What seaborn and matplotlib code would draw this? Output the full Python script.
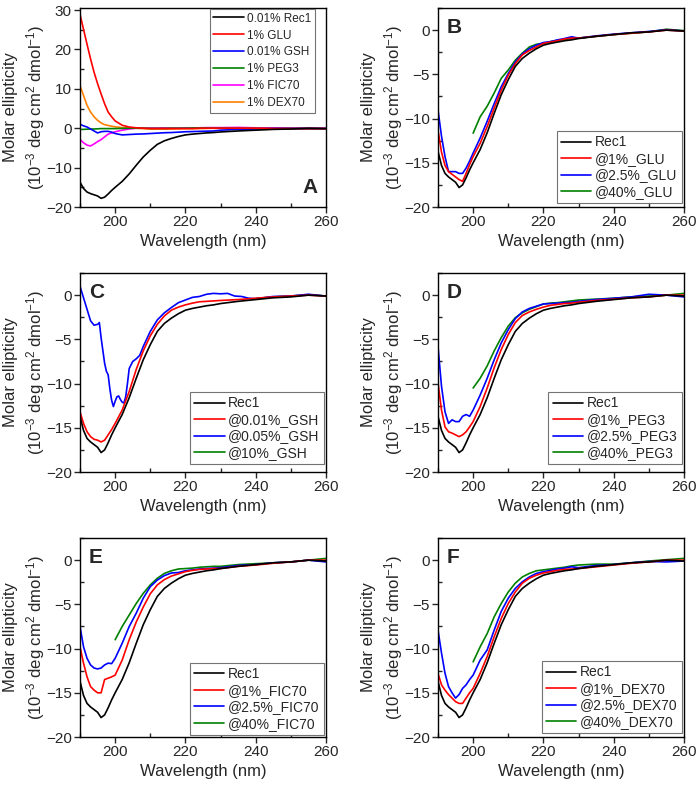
import numpy as np
import matplotlib
matplotlib.use("Agg")
import matplotlib.pyplot as plt
import seaborn as sns
from matplotlib.ticker import MultipleLocator

nan = np.nan

# wavelength grid (nm)
wl = [190, 191, 192, 193, 194, 195, 196, 197, 198, 199, 200,
      202, 204, 206, 208, 210, 212, 214, 216, 218, 220, 222, 224, 226, 228, 230,
      235, 240, 245, 250, 255, 260]

# Rec1 alone (same trace in every panel)
rec1 = [-13.7, -15.3, -16.2, -16.6, -16.9, -17.2, -17.8, -17.5, -16.7, -15.8, -15.0,
        -13.5, -11.6, -9.4, -7.3, -5.6, -4.1, -3.2, -2.6, -2.1, -1.7, -1.5, -1.35, -1.2, -1.1, -0.95,
        -0.7, -0.5, -0.3, -0.2, 0.0, -0.1]

# panel A: additives alone
glu_a = [28.9, 25.1, 21.3, 17.6, 14.2, 11.3, 8.7, 6.2, 4.1, 2.9, 1.85,
         0.75, 0.3, 0.1, 0.0, -0.1, -0.1, -0.1, -0.1, -0.1, -0.1, -0.1, 0.0, 0.0, 0.0, 0.0,
         0.0, 0.0, -0.1, -0.1, -0.1, -0.1]
gsh_a = [1.0, 0.6, 0.3, -0.2, -0.7, -1.2, -0.9, -0.8, -0.8, -1.0, -1.35,
         -1.7, -1.6, -1.5, -1.45, -1.35, -1.25, -1.15, -1.1, -1.0, -0.9, -0.85, -0.8, -0.75, -0.7, -0.5,
         -0.3, -0.2, -0.1, -0.1, -0.1, -0.1]
peg_a = [-0.3, -0.3, -0.25, -0.2, -0.2, -0.15, -0.1, -0.1, -0.1, -0.1, -0.1,
         -0.05, 0.0, 0.0, 0.0, -0.05, -0.05, -0.05, 0.0, 0.0, 0.0, 0.05, 0.05, 0.05, 0.0, 0.0,
         -0.05, -0.05, -0.1, -0.05, -0.1, -0.1]
fic_a = [-2.9, -3.7, -4.3, -4.5, -4.0, -3.4, -2.9, -2.2, -1.5, -1.2, -0.9,
         -0.5, -0.2, 0.0, 0.0, 0.05, 0.05, 0.1, 0.05, 0.05, 0.1, 0.1, 0.1, 0.15, 0.15, 0.15,
         0.2, 0.1, 0.1, 0.05, 0.0, 0.0]
dex_a = [10.8, 8.3, 5.8, 4.1, 2.9, 2.0, 1.35, 0.9, 0.7, 0.5, 0.35,
         0.15, 0.05, 0.0, -0.1, -0.2, -0.2, -0.2, -0.2, -0.15, -0.1, -0.1, -0.1, -0.05, 0.0, 0.0,
         0.0, 0.0, -0.1, -0.1, -0.2, -0.2]

# panel B: GLU
glu1 = [-11.3, -13.8, -15.3, -16.0, -16.3, -16.6, -16.9, -17.1, -16.2, -15.2, -14.3,
        -12.8, -10.9, -8.8, -6.8, -5.1, -3.8, -2.8, -2.3, -1.9, -1.5, -1.35, -1.2, -1.0, -0.9, -0.9,
        -0.7, -0.5, -0.35, -0.2, 0.0, -0.1]
glu25 = [-9.0, -12.0, -14.3, -16.0, -16.0, -16.0, -16.2, -16.2, -15.6, -14.8, -13.9,
         -12.2, -10.3, -8.3, -6.4, -4.9, -3.6, -2.7, -2.1, -1.7, -1.4, -1.3, -1.1, -0.95, -0.75, -0.9,
         -0.65, -0.45, -0.3, -0.15, 0.05, -0.1]
glu40 = [nan] * 10 + [-11.65, -9.8, -8.6, -7.1, -5.45, -4.5, -3.4, -2.6, -1.9, -1.6, -1.5,
                      -1.3, -1.15, -1.05, -0.95, -0.9, -0.7, -0.5, -0.35, -0.2, 0.1, -0.05]

# panel C: GSH
gsh001 = [-13.2, -14.5, -15.45, -16.0, -16.3, -16.4, -16.6, -16.4, -15.8, -15.2, -14.5,
          -13.0, -10.9, -8.4, -6.3, -4.6, -3.3, -2.35, -1.7, -1.35, -1.1, -0.9, -0.75, -0.7, -0.65, -0.6,
          -0.5, -0.35, -0.2, -0.1, 0.0, -0.1]
wl_gsh005 = [190, 191, 192, 193, 194, 195, 195.5, 196, 197, 197.5, 198, 198.5, 199, 199.5,
             200, 200.5, 201, 201.5, 202, 202.5, 203, 203.5, 204, 205, 206, 207, 208,
             210, 212, 214, 216, 218, 220, 222, 224, 226, 228, 230, 232, 234, 236, 238, 240,
             245, 250, 255, 260]
gsh005 = [1.0, -0.3, -1.6, -2.9, -3.4, -3.3, -3.1, -4.8, -7.7, -8.6, -9.0, -10.6, -11.9, -12.6,
          -12.0, -11.5, -11.4, -11.8, -12.1, -12.2, -11.5, -10.0, -8.3, -7.5, -7.2, -6.8, -5.8,
          -4.1, -2.8, -2.0, -1.4, -0.85, -0.55, -0.25, -0.15, 0.1, 0.2, 0.15, 0.2, -0.1, -0.15, -0.35, -0.4,
          -0.15, -0.1, 0.1, -0.1]
gsh10 = [nan] * 27 + [-0.4, -0.2, -0.1, 0.05, -0.1]

# panel D: PEG3
peg1 = [-9.9, -13.0, -14.9, -15.45, -15.6, -15.8, -16.0, -15.8, -15.45, -14.9, -14.3,
        -12.6, -10.5, -8.2, -6.15, -4.45, -3.1, -2.3, -1.9, -1.6, -1.35, -1.15, -1.05, -0.95, -0.9, -0.8,
        -0.6, -0.45, -0.3, -0.2, 0.0, 0.0]
peg25 = [-5.8, -10.3, -13.2, -14.5, -14.1, -14.3, -14.3, -13.7, -13.5, -13.7, -13.0,
         -11.3, -9.4, -7.3, -5.4, -3.9, -2.65, -1.9, -1.5, -1.25, -1.0, -0.95, -0.9, -0.85, -0.8, -0.7,
         -0.5, -0.35, -0.2, 0.1, 0.0, -0.2]
peg40 = [nan] * 10 + [-10.5, -9.4, -8.0, -6.3, -4.8, -3.5, -2.55, -2.0, -1.6, -1.3, -1.0,
                      -0.9, -0.85, -0.75, -0.65, -0.55, -0.45, -0.35, -0.2, -0.1, 0.0, 0.2]

# panel E: FIC70
fic1 = [-9.8, -11.65, -13.2, -14.3, -14.7, -15.0, -15.0, -13.5, -13.35, -13.2, -13.0,
        -11.3, -9.0, -7.0, -5.3, -3.8, -2.8, -2.2, -1.8, -1.55, -1.3, -1.15, -1.05, -1.0, -0.95, -0.95,
        -0.7, -0.55, -0.35, -0.2, 0.0, 0.0]
fic25 = [-7.5, -9.8, -11.1, -11.85, -12.2, -12.3, -12.2, -11.85, -11.65, -11.7, -11.1,
         -9.4, -7.5, -6.0, -4.3, -3.0, -2.25, -1.75, -1.45, -1.4, -1.2, -1.1, -1.0, -0.95, -0.9, -0.85,
         -0.6, -0.5, -0.3, -0.2, 0.0, -0.2]
fic40 = [nan] * 10 + [-9.0, -7.5, -6.2, -4.9, -3.75, -2.8, -2.05, -1.5, -1.2, -1.0, -0.95,
                      -0.9, -0.8, -0.75, -0.7, -0.7, -0.5, -0.4, -0.3, -0.2, 0.0, 0.2]

# panel F: DEX70
dex1 = [-12.8, -14.1, -14.7, -15.2, -15.6, -16.0, -16.2, -16.2, -15.6, -15.0, -14.5,
        -12.8, -10.9, -8.65, -6.6, -4.9, -3.6, -2.6, -2.05, -1.7, -1.45, -1.3, -1.15, -1.05, -1.0, -0.95,
        -0.75, -0.55, -0.35, -0.2, 0.0, 0.0]
dex25 = [-7.9, -10.5, -12.8, -14.3, -15.0, -15.6, -15.2, -14.5, -14.1, -13.5, -13.0,
         -11.3, -10.15, -7.9, -5.8, -4.3, -3.2, -2.45, -1.9, -1.5, -1.3, -1.15, -1.0, -0.9, -0.75, -0.85,
         -0.6, -0.5, -0.3, -0.15, -0.2, -0.1]
dex40 = [nan] * 10 + [-11.5, -9.8, -8.3, -6.4, -4.9, -3.6, -2.6, -1.9, -1.5, -1.2, -1.1,
                      -1.0, -0.9, -0.8, -0.65, -0.55, -0.45, -0.45, -0.3, -0.1, 0.05, 0.2]

BLACK, RED, BLUE, GREEN = "black", "#ff0000", "#0000ff", "#008000"
MAGENTA, ORANGE = "#ff00ff", "#ff8000"

sns.set_style("ticks")
plt.rcParams["font.family"] = ["Liberation Sans", "DejaVu Sans"]
plt.rcParams["mathtext.fontset"] = "custom"
plt.rcParams["mathtext.rm"] = "Liberation Sans"
plt.rcParams["mathtext.it"] = "Liberation Sans"

fig = plt.figure(figsize=(7, 7.88), dpi=100)

left_x = [0.1143, 0.6257]
bottoms = [0.7373, 0.401, 0.0647]
w, h = 0.3514, 0.2525

panels = [
    ("A", [(wl, rec1, BLACK, "0.01% Rec1"), (wl, glu_a, RED, "1% GLU"), (wl, gsh_a, BLUE, "0.01% GSH"),
           (wl, peg_a, GREEN, "1% PEG3"), (wl, fic_a, MAGENTA, "1% FIC70"), (wl, dex_a, ORANGE, "1% DEX70")]),
    ("B", [(wl, rec1, BLACK, "Rec1"), (wl, glu1, RED, "@1%_GLU"), (wl, glu25, BLUE, "@2.5%_GLU"),
           (wl, glu40, GREEN, "@40%_GLU")]),
    ("C", [(wl, rec1, BLACK, "Rec1"), (wl, gsh001, RED, "@0.01%_GSH"), (wl_gsh005, gsh005, BLUE, "@0.05%_GSH"),
           (wl, gsh10, GREEN, "@10%_GSH")]),
    ("D", [(wl, rec1, BLACK, "Rec1"), (wl, peg1, RED, "@1%_PEG3"), (wl, peg25, BLUE, "@2.5%_PEG3"),
           (wl, peg40, GREEN, "@40%_PEG3")]),
    ("E", [(wl, rec1, BLACK, "Rec1"), (wl, fic1, RED, "@1%_FIC70"), (wl, fic25, BLUE, "@2.5%_FIC70"),
           (wl, fic40, GREEN, "@40%_FIC70")]),
    ("F", [(wl, rec1, BLACK, "Rec1"), (wl, dex1, RED, "@1%_DEX70"), (wl, dex25, BLUE, "@2.5%_DEX70"),
           (wl, dex40, GREEN, "@40%_DEX70")]),
]
leg_y = {"B": 0.02, "C": 0.04, "D": 0.04, "E": 0.01, "F": 0.02}

for i, (letter, series) in enumerate(panels):
    ax = fig.add_axes([left_x[i % 2], bottoms[i // 2], w, h])
    # draw in reverse so black sits on top like the original
    for x, y, c, lab in series[::-1]:
        sns.lineplot(x=x, y=y, color=c, label=lab, lw=1.2, errorbar=None, ax=ax)

    ax.set_xlim(190, 260)
    ax.xaxis.set_major_locator(MultipleLocator(20))
    ax.xaxis.set_minor_locator(MultipleLocator(10))
    if letter == "A":
        ax.set_ylim(-20, 30.5)
        ax.yaxis.set_major_locator(MultipleLocator(10))
        ax.yaxis.set_minor_locator(MultipleLocator(5))
    else:
        ax.set_ylim(-20, 2.5)
        ax.yaxis.set_major_locator(MultipleLocator(5))
        ax.yaxis.set_minor_locator(MultipleLocator(2.5))

    ax.tick_params(which="major", direction="out", length=4, width=1, labelsize=11, pad=2)
    ax.tick_params(which="minor", direction="in", length=3, width=1)
    for s in ax.spines.values():
        s.set_linewidth(1)
        s.set_color("black")

    ax.set_xlabel("Wavelength (nm)", fontsize=12, labelpad=3)
    ax.set_ylabel("Molar ellipticity\n(10$^{-3}$ deg cm$^{2}$ dmol$^{-1}$)", fontsize=12, labelpad=-1,
                  linespacing=1.35)

    handles, labels = ax.get_legend_handles_labels()
    handles, labels = handles[::-1], labels[::-1]
    if letter == "A":
        leg = ax.legend(handles, labels, loc="upper right", bbox_to_anchor=(0.955, 0.995), borderaxespad=0,
                        fontsize=8.5, handlelength=2.6, handletextpad=0.25, labelspacing=0.42,
                        borderpad=0.3, fancybox=False, frameon=True)
        ax.text(0.967, 0.05, letter, transform=ax.transAxes, ha="right", va="bottom",
                fontsize=15, fontweight="bold")
    else:
        leg = ax.legend(handles, labels, loc="lower right", bbox_to_anchor=(0.99, leg_y[letter]),
                        borderaxespad=0, fontsize=10, handlelength=2.2, handletextpad=0.25,
                        labelspacing=0.18, borderpad=0.3, fancybox=False, frameon=True)
        ax.text(0.037, 0.95, letter, transform=ax.transAxes, ha="left", va="top",
                fontsize=15, fontweight="bold")
    leg.get_frame().set_edgecolor("0.45")
    leg.get_frame().set_linewidth(0.8)
    leg.get_frame().set_alpha(1)

fig.savefig("out.png", dpi=100)
